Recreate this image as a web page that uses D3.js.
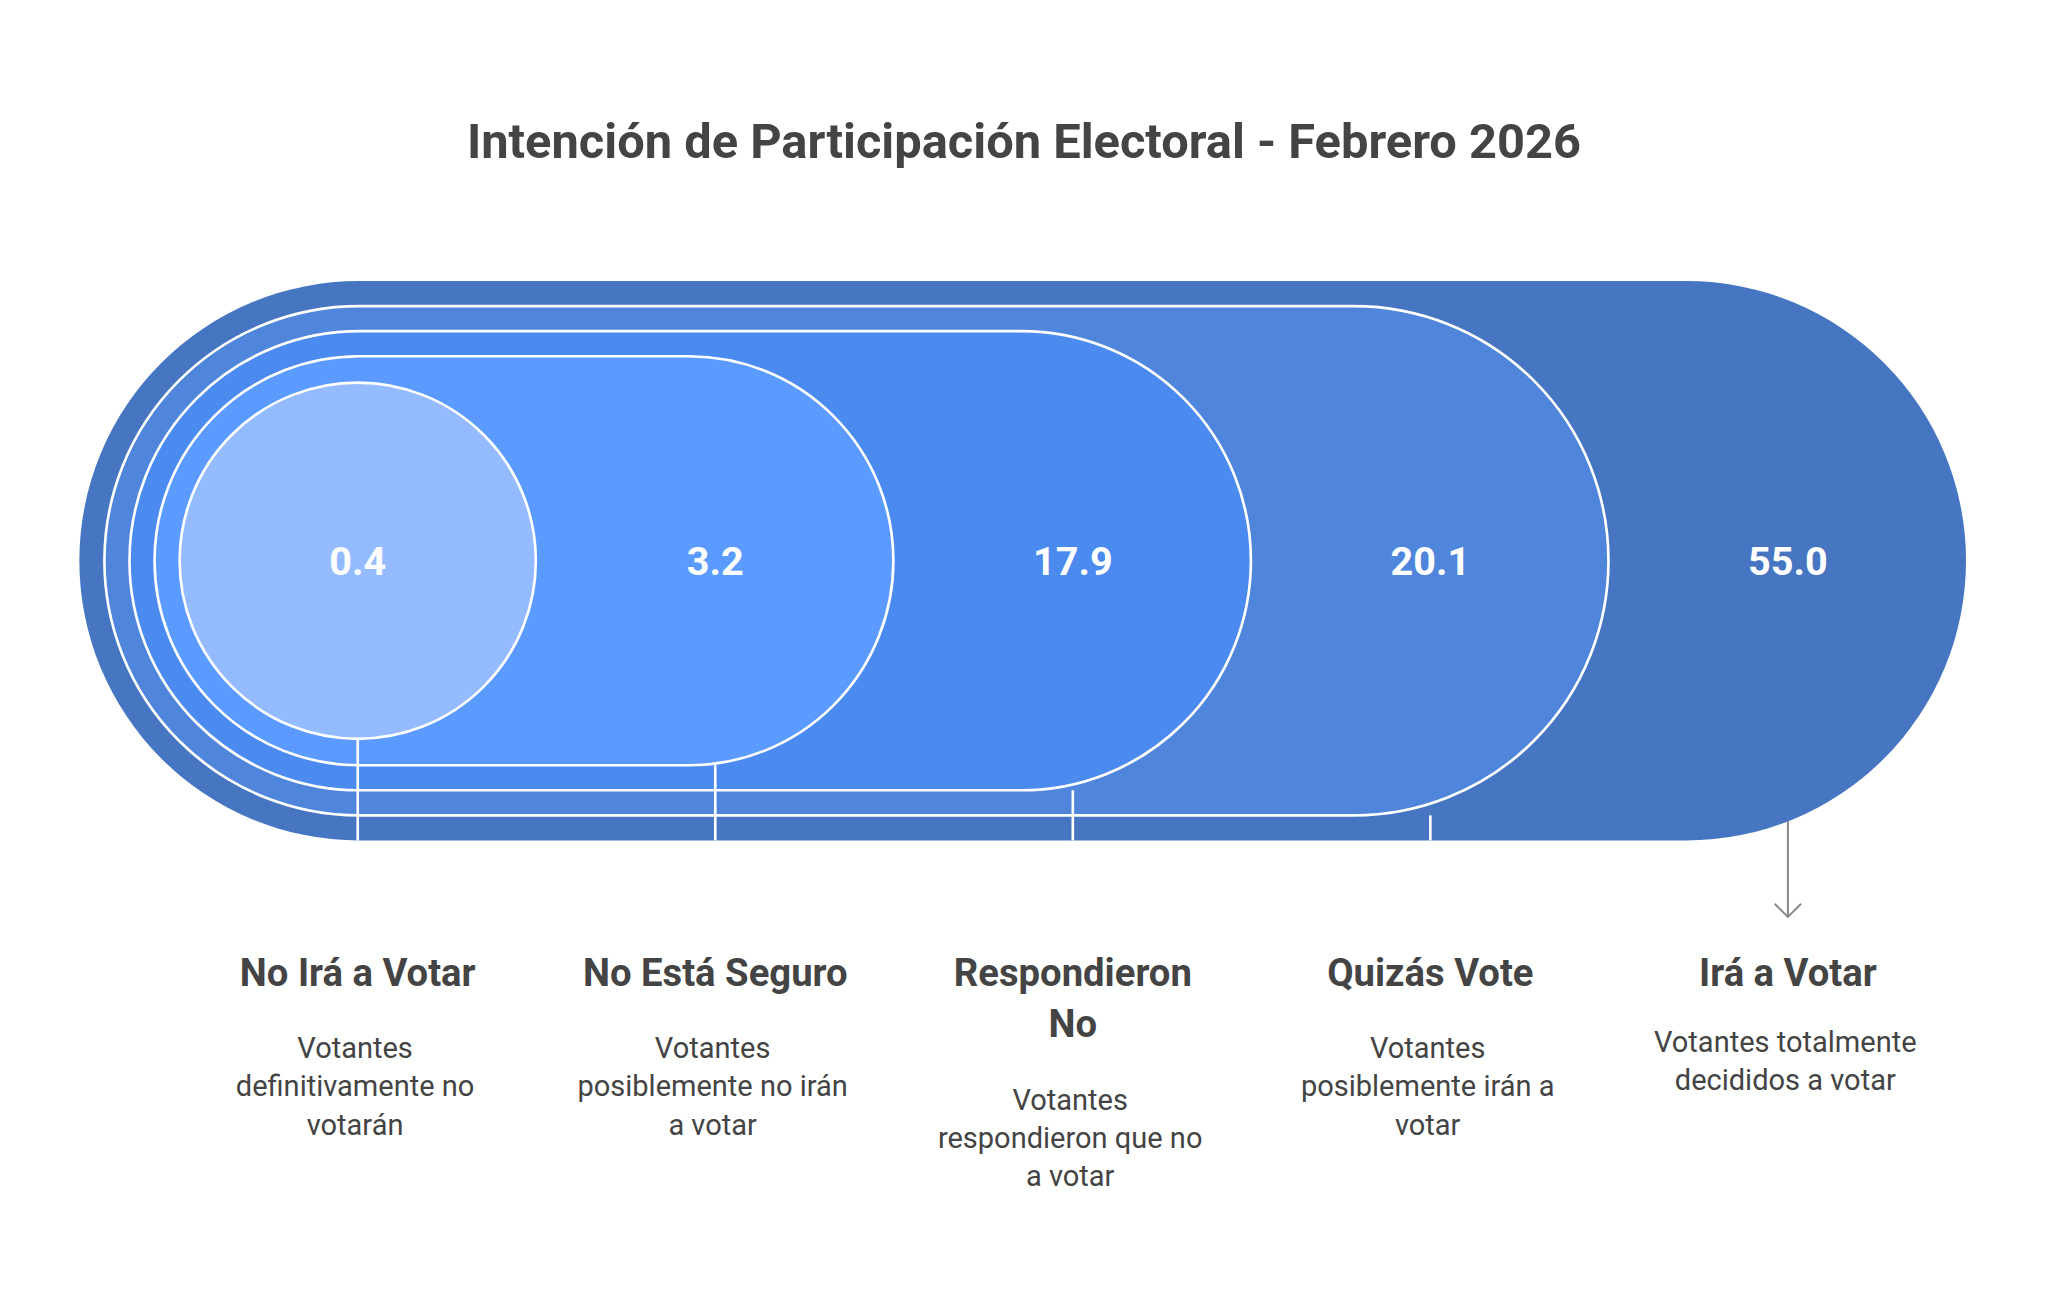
<!DOCTYPE html>
<html><head><meta charset="utf-8">
<script src="https://cdn.jsdelivr.net/npm/d3@7"></script>
<style>body{margin:0;background:#fff}svg{display:block}</style>
</head><body>
<script>
const categories = ["No Irá a Votar","No Está Seguro","Respondieron No","Quizás Vote","Irá a Votar"];
const values = [0.4, 3.2, 17.9, 20.1, 55.0];
const nameLines = [["No Irá a Votar"],["No Está Seguro"],["Respondieron","No"],["Quizás Vote"],["Irá a Votar"]];
const descLines = [["Votantes","definitivamente no","votarán"],["Votantes","posiblemente no irán","a votar"],["Votantes","respondieron que no","a votar"],["Votantes","posiblemente irán a","votar"],["Votantes totalmente","decididos a votar"]];
const colors = ["#94BBFF","#5B9BFF","#4B8AEE","#4F86DB","#4676C2"];
const title = "Intención de Participación Electoral - Febrero 2026";

const W=1552,H=977;
const svg=d3.select("body").append("svg").attr("width",2048).attr("height",1289).attr("viewBox",`0 0 ${W} ${H}`)
  .style("font-family","Roboto, sans-serif");
const x=d3.scalePoint().domain(categories).range([271,1355]);
const cy=425, R=212, step=19;

svg.append("text").attr("x",W/2).attr("y",120).attr("text-anchor","middle")
  .attr("font-size",37).attr("font-weight",700).attr("fill","#444").text(title);

// layers from outermost
for(let i=categories.length-1;i>=0;i--){
  const k=categories.length-1-i; // 0 for outermost
  const r=R-step*k;
  const left=60+step*k;
  const right=x(categories[i])+135;
  if(i===0){
    svg.append("circle").attr("cx",x(categories[0])).attr("cy",cy).attr("r",135)
      .attr("fill",colors[0]).attr("stroke","#fff").attr("stroke-width",2);
  } else {
    svg.append("rect").attr("x",left).attr("y",cy-r).attr("width",right-left).attr("height",2*r)
      .attr("rx",r).attr("ry",r).attr("fill",colors[i])
      .attr("stroke",k===0?"none":"#fff").attr("stroke-width",2);
  }
}
// connector lines
categories.slice(0,4).forEach((c,i)=>{
  const k=categories.length-1-i;
  const r=i===0?135:R-step*k;
  svg.append("line").attr("x1",x(c)).attr("x2",x(c)).attr("y1",cy+r).attr("y2",cy+R)
    .attr("stroke","#fff").attr("stroke-width",2);
});
// arrow
const ax=x(categories[4]);
svg.append("line").attr("x1",ax).attr("x2",ax).attr("y1",622).attr("y2",695).attr("stroke","#888").attr("stroke-width",1.5);
svg.append("path").attr("d",`M${ax-10},${685} L${ax},${695} L${ax+10},${685}`).attr("fill","none").attr("stroke","#888").attr("stroke-width",1.5);

// values
categories.forEach((c,i)=>{
  svg.append("text").attr("x",x(c)).attr("y",cy+11).attr("text-anchor","middle")
    .attr("font-size",30).attr("font-weight",700).attr("fill","#fff").text(values[i].toFixed(1));
  const g=svg.append("g");
  nameLines[i].forEach((t,j)=>g.append("text").attr("x",x(c)).attr("y",747+j*39).attr("text-anchor","middle")
    .attr("font-size",29).attr("font-weight",700).attr("fill","#444").text(t));
  const base = i===4 ? 797 : 802 + (nameLines[i].length-1)*39;
  descLines[i].forEach((t,j)=>g.append("text").attr("x",x(c)-2).attr("y",base+j*29).attr("text-anchor","middle")
    .attr("font-size",22).attr("fill","#444").text(t));
});
</script>
</body></html>
